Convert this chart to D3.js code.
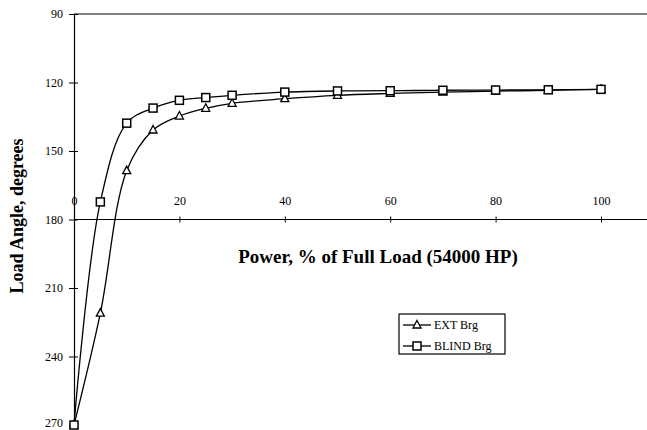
<!DOCTYPE html>
<html>
<head>
<meta charset="utf-8">
<script src="https://cdn.jsdelivr.net/npm/d3@7"></script>
<style>
  html, body { margin: 0; padding: 0; background: #fff; }
  svg { display: block; }
  text { font-family: "Liberation Serif", "DejaVu Serif", serif; fill: #000; }
</style>
</head>
<body>
<svg id="chart" width="647" height="430"></svg>
<script>
// Power, % of full load
const power = [0, 5, 10, 15, 20, 25, 30, 40, 50, 60, 70, 80, 90, 100];
// Load angle (degrees) for each bearing
const extBrg   = [270, 221, 158.6, 140.8, 134.7, 131.3, 129.1, 127.1, 125.6, 124.8, 124.2, 123.8, 123.4, 123];
const blindBrg = [270, 172.3, 137.8, 131.2, 127.8, 126.6, 125.6, 124.2, 123.7, 123.6, 123.4, 123.3, 123.2, 123];
const xTicks = [0, 20, 40, 60, 80, 100];
const yTicks = [90, 120, 150, 180, 210, 240, 270];

const svg = d3.select("#chart");
const W = 647, H = 430;

const x = d3.scaleLinear().domain([0, 100]).range([74, 601]);
const y = d3.scaleLinear().domain([90, 270]).range([14, 425]);

// Frame lines: top gridline at 90 and horizontal axis at 180
svg.append("line").attr("x1", x(0)).attr("x2", W).attr("y1", y(90)).attr("y2", y(90))
  .attr("stroke", "#000").attr("stroke-width", 1.2);
svg.append("line").attr("x1", x(0)).attr("x2", W).attr("y1", y(180)).attr("y2", y(180))
  .attr("stroke", "#000").attr("stroke-width", 1.2);

// Vertical axis
const yAxis = d3.axisLeft(y).tickValues(yTicks).tickSize(0).tickPadding(11);
const gy = svg.append("g").attr("transform", `translate(${x(0)},0)`).call(yAxis);
gy.select(".domain").attr("stroke", "#000").attr("stroke-width", 1.2);
gy.selectAll(".tick text").attr("font-size", 12).attr("font-family", "Liberation Serif, serif")
  .attr("y", d => d === 270 ? -2 : 0);
gy.selectAll(".tick").append("line").attr("x1", -5).attr("x2", 4).attr("stroke", "#000").attr("stroke-width", 1);

// Horizontal axis ticks and labels (labels sit above the axis line)
const xAxis = d3.axisBottom(x).tickValues(xTicks).tickSize(0).tickPadding(0);
const gx = svg.append("g").attr("transform", `translate(0,${y(180)})`).call(xAxis);
gx.select(".domain").remove();
gx.selectAll(".tick text").attr("font-size", 12).attr("font-family", "Liberation Serif, serif")
  .attr("dy", null).attr("y", -15);
gx.selectAll(".tick").filter(d => d > 0).append("line").attr("y1", -3).attr("y2", 3)
  .attr("stroke", "#000").attr("stroke-width", 1);

// Axis titles
svg.append("text").attr("x", 378).attr("y", 263).attr("text-anchor", "middle")
  .attr("font-weight", "bold").attr("font-size", 19)
  .text("Power, % of Full Load (54000 HP)");
svg.append("text").attr("transform", "translate(23,216) rotate(-90)").attr("text-anchor", "middle")
  .attr("font-weight", "bold").attr("font-size", 18)
  .text("Load Angle, degrees");

// Series
const line = d3.line().curve(d3.curveCatmullRom.alpha(0.5));
function drawSeries(vals, shape) {
  const pts = power.map((p, i) => [x(p), y(vals[i])]);
  svg.append("path").attr("d", line(pts)).attr("fill", "none")
    .attr("stroke", "#000").attr("stroke-width", 1.3);
  const g = svg.append("g");
  pts.forEach(([px, py]) => drawMarker(g, px, py, shape));
}
function drawMarker(g, px, py, shape) {
  if (shape === "square") {
    g.append("rect").attr("x", px - 4).attr("y", py - 4).attr("width", 8).attr("height", 8)
      .attr("fill", "#fff").attr("stroke", "#000").attr("stroke-width", 1.5);
  } else {
    g.append("path").attr("d", `M${px},${py - 4.5}L${px + 4},${py + 3}L${px - 4},${py + 3}Z`)
      .attr("fill", "#fff").attr("stroke", "#000").attr("stroke-width", 1.3);
  }
}
drawSeries(extBrg, "triangle");
drawSeries(blindBrg, "square");

// Legend
const lg = svg.append("g").attr("transform", "translate(399,314)");
lg.append("rect").attr("width", 106).attr("height", 40).attr("fill", "#fff")
  .attr("stroke", "#000").attr("stroke-width", 1.2);
const legendItems = [["EXT Brg", "triangle"], ["BLIND Brg", "square"]];
legendItems.forEach(([name, shape], i) => {
  const cy = 11 + i * 21;
  lg.append("line").attr("x1", 4).attr("x2", 32).attr("y1", cy).attr("y2", cy)
    .attr("stroke", "#000").attr("stroke-width", 1.3);
  drawMarker(lg, 18, cy, shape);
  lg.append("text").attr("x", 35).attr("y", cy + 4).attr("font-size", 12).text(name);
});
</script>
</body>
</html>
